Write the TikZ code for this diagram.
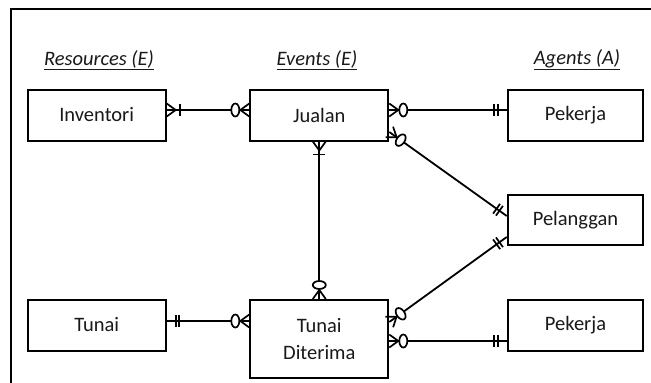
\documentclass[tikz,border=0pt]{standalone}
\usepackage{fontspec}
\setmainfont{Carlito}
\usetikzlibrary{decorations.markings}

\newcommand\ERzm{\draw[sym] (0,6.5pt)--(9pt,0)--(0,-6.5pt); \draw[sym,fill=white] (14pt,0) ellipse [x radius=4pt, y radius=6.5pt];}
\newcommand\ERom{\draw[sym] (0,6.5pt)--(9pt,0)--(0,-6.5pt); \draw[sym] (13pt,6pt)--(13pt,-6pt);}
\newcommand\ERoo{\draw[sym] (9pt,6pt)--(9pt,-6pt); \draw[sym] (12.5pt,6pt)--(12.5pt,-6pt);}

\tikzset{
  sym/.style={line width=1.7pt},
  ent/.style={draw, line width=2pt, minimum width=138pt, minimum height=51pt,
    font=\fontsize{20.5}{27}\selectfont, align=center, inner sep=0pt, text=black!90},
  hdr/.style={font=\fontsize{20.5}{24}\selectfont\itshape, text=black!90},
  conn/.style={line width=1.8pt},
  zmS/.style={postaction={decorate,decoration={markings,mark=at position 0 with {\ERzm}}}},
  zmE/.style={postaction={decorate,decoration={markings,mark=at position 1 with {\begin{scope}[xscale=-1]\ERzm\end{scope}}}}},
  omS/.style={postaction={decorate,decoration={markings,mark=at position 0 with {\ERom}}}},
  omE/.style={postaction={decorate,decoration={markings,mark=at position 1 with {\begin{scope}[xscale=-1]\ERom\end{scope}}}}},
  ooS/.style={postaction={decorate,decoration={markings,mark=at position 0 with {\ERoo}}}},
  ooE/.style={postaction={decorate,decoration={markings,mark=at position 1 with {\begin{scope}[xscale=-1]\ERoo\end{scope}}}}},
}

\begin{document}
\begin{tikzpicture}[x=1pt,y=-1pt]
\path[use as bounding box] (0,0) rectangle (651,383);
\clip (0,0) rectangle (651,383);
\fill[white] (0,0) rectangle (651,383);
\draw[line width=2.2pt] (11,9) rectangle (680,420);

\node[hdr] (hr) at (99,60) {\underline{Resources (E)}};
\node[hdr] (he) at (317,60) {\underline{Events (E)}};
\node[hdr] (ha) at (577,60) {\underline{Agents (A)}};

\node[ent] (inv) at (96.7,115) {Inventori};
\node[ent] (jua) at (319.3,115) {Jualan};
\node[ent, minimum width=135.5pt] (pek1) at (575.5,115) {Pekerja};
\node[ent, minimum width=135.5pt, minimum height=50pt] (pel) at (575.5,220) {Pelanggan};
\node[ent] (tun) at (96.7,325) {Tunai};
\node[ent, minimum height=78pt] (td) at (319.3,339) {Tunai\\Diterima};
\node[ent, minimum width=135.5pt] (pek2) at (575.5,325) {Pekerja};

\draw[conn, omS, zmE] ([yshift=5pt]inv.east) -- ([yshift=5pt]jua.west);
\draw[conn, zmS, ooE] ([yshift=5pt]jua.east) -- ([yshift=5pt]pek1.west);
\draw[conn, zmS, ooE] ([yshift=-17pt]jua.east) -- ([yshift=4pt]pel.west);
\draw[conn, omS, zmE] (jua.south) -- (td.north);
\draw[conn, ooS, zmE] ([yshift=4pt]tun.east) -- ([yshift=18pt]td.west);
\draw[conn, zmS, ooE] ([yshift=17pt]td.east) -- ([yshift=-17pt]pel.west);
\draw[conn, zmS, ooE] ([yshift=-2pt]td.east) -- ([yshift=-16pt]pek2.west);
\end{tikzpicture}
\end{document}
